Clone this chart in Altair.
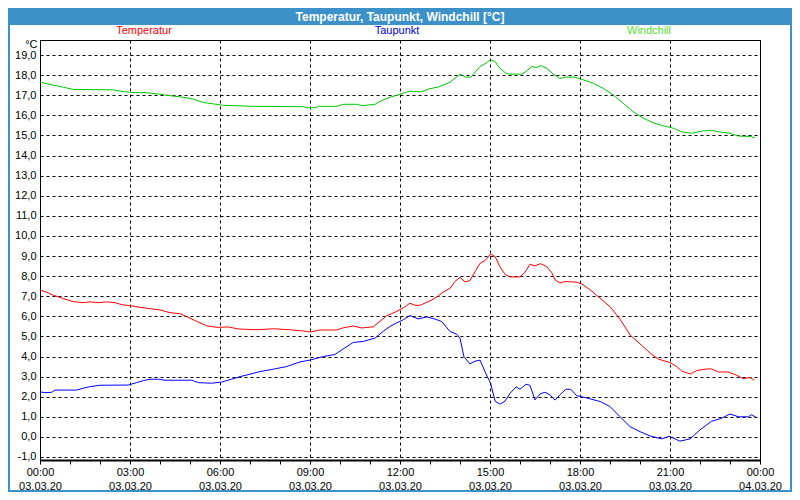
import altair as alt
import pandas as pd

TITLE = "Temperatur, Taupunkt, Windchill [°C]"
SERIES = ["Temperatur", "Taupunkt", "Windchill"]
LINE_COLORS = ["#ff0000", "#0000ff", "#00c800"]
LEGEND_COLORS = ["#ff0000", "#0000d0", "#55e030"]

temp_h = [0, 0.22, 0.44, 0.78, 1.11, 1.44, 1.67, 1.94, 2.22, 2.5, 2.72, 3.0, 3.33, 3.67, 4.0, 4.33, 4.67,
          4.94, 5.22, 5.56, 5.89, 6.28, 6.61, 7.22, 7.78, 8.33, 8.78, 9.02, 9.33, 9.89, 10.11, 10.44, 10.72,
          11.11, 11.33, 11.56, 11.83, 12.11, 12.33, 12.5, 12.67, 13.0, 13.22, 13.44, 13.67, 13.83, 14.0,
          14.17, 14.33, 14.5, 14.67, 14.83, 15.02, 15.17, 15.33, 15.5, 15.67, 16.0, 16.17, 16.33, 16.5,
          16.69, 16.89, 17.06, 17.17, 17.33, 17.5, 17.89, 18.06, 18.33, 18.67, 19.0, 19.33, 19.67, 20.0,
          20.33, 20.61, 21.0, 21.22, 21.39, 21.67, 21.89, 22.22, 22.39, 22.61, 22.94, 23.22, 23.44, 23.67, 23.81]
temp_v = [7.3, 7.2, 7.05, 6.88, 6.73, 6.68, 6.72, 6.68, 6.72, 6.68, 6.58, 6.53, 6.45, 6.38, 6.32, 6.18, 6.13,
          5.95, 5.75, 5.53, 5.45, 5.47, 5.37, 5.33, 5.38, 5.33, 5.27, 5.22, 5.32, 5.32, 5.43, 5.52, 5.42,
          5.48, 5.75, 6.03, 6.2, 6.42, 6.65, 6.55, 6.55, 6.77, 6.95, 7.21, 7.4, 7.73, 7.94,
          7.71, 7.78, 8.22, 8.64, 8.77, 9.1, 8.97, 8.47, 8.09, 7.96, 7.96, 8.2, 8.59, 8.51,
          8.62, 8.47, 8.17, 7.81, 7.66, 7.73, 7.7, 7.61, 7.33, 6.9, 6.48, 5.87, 5.07, 4.63,
          4.18, 3.87, 3.7, 3.5, 3.28, 3.13, 3.3, 3.38, 3.38, 3.23, 3.23, 3.07, 2.9, 2.95, 2.82]

dew_h = [0, 0.17, 0.39, 0.5, 1.22, 1.44, 1.67, 2.0, 2.94, 3.22, 3.44, 3.67, 3.94, 4.17, 5.06, 5.28, 5.72,
         6.06, 6.39, 6.67, 7.0, 7.33, 7.78, 8.22, 8.67, 9.02, 9.44, 9.83, 10.06, 10.44, 10.78, 11.17, 11.44,
         11.67, 11.89, 12.11, 12.33, 12.61, 12.89, 13.17, 13.39, 13.67, 13.89, 14.0, 14.13, 14.33, 14.5,
         14.67, 14.83, 15.02, 15.17, 15.33, 15.5, 15.67, 15.87, 16.0, 16.2, 16.33, 16.5, 16.67, 16.83, 17.0,
         17.17, 17.33, 17.53, 17.69, 17.89, 18.22, 18.67, 19.0, 19.33, 19.67, 20.0, 20.33, 20.72, 20.98,
         21.33, 21.67, 22.0, 22.39, 22.72, 23.0, 23.28, 23.61, 23.72, 23.89]
dew_v = [2.24, 2.2, 2.22, 2.33, 2.33, 2.42, 2.5, 2.57, 2.58, 2.7, 2.8, 2.87, 2.87, 2.82, 2.82, 2.7, 2.67,
         2.73, 2.87, 3.0, 3.12, 3.25, 3.37, 3.5, 3.73, 3.83, 4.0, 4.1, 4.33, 4.7, 4.75, 4.92, 5.25,
         5.5, 5.67, 5.83, 6.04, 5.87, 5.97, 5.86, 5.74, 5.24, 5.11, 4.91, 4.0, 3.63, 3.77,
         3.82, 3.25, 2.67, 1.78, 1.63, 1.78, 2.17, 2.49, 2.37, 2.62, 2.57, 1.84, 2.14, 2.22, 2.09,
         1.83, 2.09, 2.37, 2.37, 2.05, 1.94, 1.76, 1.51, 1.01, 0.51, 0.26, 0.05, -0.1, 0.03,
         -0.21, -0.1, 0.35, 0.78, 0.93, 1.14, 1.0, 1.0, 1.1, 0.96]

wind_h = [0, 0.33, 0.78, 1.11, 2.42, 2.78, 3.2, 3.56, 3.94, 4.39, 4.78, 5.11, 5.44, 5.78, 6.11, 7.11, 8.78,
          8.9, 9.2, 9.28, 9.89, 10.11, 10.56, 10.72, 11.17, 11.33, 11.67, 12.0, 12.33, 12.44, 12.72, 13.0,
          13.28, 13.67, 14.0, 14.2, 14.36, 14.67, 14.87, 15.02, 15.17, 15.33, 15.53, 15.67, 16.06, 16.22,
          16.39, 16.53, 16.69, 16.89, 17.11, 17.33, 17.5, 17.83, 18.11, 18.44, 18.78, 19.11, 19.44, 19.78,
          20.11, 20.44, 20.78, 21.11, 21.39, 21.72, 22.11, 22.39, 22.67, 23.0, 23.28, 23.67, 23.83]
wind_v = [17.65, 17.54, 17.4, 17.29, 17.27, 17.18, 17.13, 17.13, 17.06, 16.97, 16.9, 16.8, 16.64, 16.57,
          16.5, 16.45, 16.43, 16.38, 16.38, 16.45, 16.45, 16.55, 16.55, 16.48, 16.55, 16.7, 16.9, 17.05,
          17.21, 17.18, 17.18, 17.33, 17.41, 17.65, 18.05, 17.9, 17.9, 18.43, 18.6, 18.77, 18.67, 18.34,
          18.1, 18.05, 18.05, 18.2, 18.44, 18.37, 18.48, 18.34, 18.06, 17.83, 17.9, 17.9, 17.77, 17.6,
          17.34, 17.01, 16.6, 16.18, 15.86, 15.63, 15.48, 15.36, 15.18, 15.11, 15.23, 15.25, 15.17,
          15.11, 14.97, 14.95, 14.88]

X_VALUES = list(range(0, 25))
Y_VALUES = list(range(-1, 20))

df = pd.concat([
    pd.DataFrame({"hour": wind_h, "value": wind_v, "series": SERIES[2]}),
    pd.DataFrame({"hour": temp_h, "value": temp_v, "series": SERIES[0]}),
    pd.DataFrame({"hour": dew_h, "value": dew_v, "series": SERIES[1]}),
], ignore_index=True)

FONT = "Liberation Sans Narrow, Liberation Sans, sans-serif"
BLUE = "#3c92c8"
W, H = 720, 420

x_label = ("datum.value % 3 === 0 ? [(datum.value % 24 < 10 ? '0' : '') + (datum.value % 24) + ':00', "
           "datum.value === 24 ? '04.03.20' : '03.03.20'] : ''")
y_label = "(datum.value < 0 ? '-' : '') + abs(datum.value) + ',0'"

lines = alt.Chart(df).mark_line(strokeWidth=1, clip=True).encode(
    x=alt.X("hour:Q",
            scale=alt.Scale(domain=[0, 24], nice=False, zero=False),
            axis=alt.Axis(values=X_VALUES, labelExpr=x_label, labelOverlap=False, labelFlush=False,
                          labelBound=False, tickSize=4, tickColor="black", tickWidth=1,
                          domainColor="black", domainWidth=2, labelPadding=2, labelLineHeight=14,
                          labelBaseline="top", labelFontSize=11, labelFont=FONT, labelColor="black",
                          grid=True, gridColor="black", gridDash=[3, 3], gridWidth=1,
                          gridOpacity={"condition": {"test": "datum.value % 3 === 0", "value": 1}, "value": 0},
                          title=None)),
    y=alt.Y("value:Q",
            scale=alt.Scale(domain=[-1.15, 19.75], nice=False, zero=False),
            axis=alt.Axis(values=Y_VALUES, labelExpr=y_label, ticks=False, labelPadding=4,
                          domainColor="black", domainWidth=1, labelFontSize=11, labelFont=FONT,
                          labelColor="black", grid=True, gridColor="black", gridDash=[3, 3], gridWidth=1,
                          title="°C", titleAngle=0, titleX=-3, titleY=4, titleAlign="right",
                          titleBaseline="middle", titleFontWeight="normal", titleFontSize=11,
                          titleFont=FONT, titleColor="black")),
    color=alt.Color("series:N", scale=alt.Scale(domain=SERIES, range=LINE_COLORS), legend=None),
    order=alt.Order("hour:Q"),
)

one = pd.DataFrame({"t": [TITLE]})
title_bar = alt.Chart(one).mark_rect(color=BLUE).encode(
    x=alt.value(-32), x2=alt.value(W + 32), y=alt.value(-32), y2=alt.value(-15))
border = alt.Chart(one).mark_rect(fillOpacity=0, stroke=BLUE, strokeWidth=2).encode(
    x=alt.value(-31), x2=alt.value(W + 31), y=alt.value(-31), y2=alt.value(H + 31))
title_text = alt.Chart(one).mark_text(font=FONT, fontSize=12, fontWeight="bold", color="white",
                                      align="center", baseline="middle").encode(
    text="t:N", x=alt.value(W / 2), y=alt.value(-23))

legend_x = [104, 357, 609]
legend_layers = []
for name, col, lx in zip(SERIES, LEGEND_COLORS, legend_x):
    legend_layers.append(
        alt.Chart(pd.DataFrame({"t": [name]})).mark_text(font=FONT, fontSize=11, color=col,
                                                          align="center", baseline="middle").encode(
            text="t:N", x=alt.value(lx), y=alt.value(-9)))

chart = alt.layer(title_bar, border, lines, title_text, *legend_layers).properties(
    width=W, height=H,
    autosize=alt.AutoSizeParams(type="none"),
    padding={"left": 32, "top": 32, "right": 32, "bottom": 32},
    background="white",
).configure_view(stroke="black", strokeWidth=1)

chart.save("out.html", embed_options={"renderer": "svg", "actions": False})
